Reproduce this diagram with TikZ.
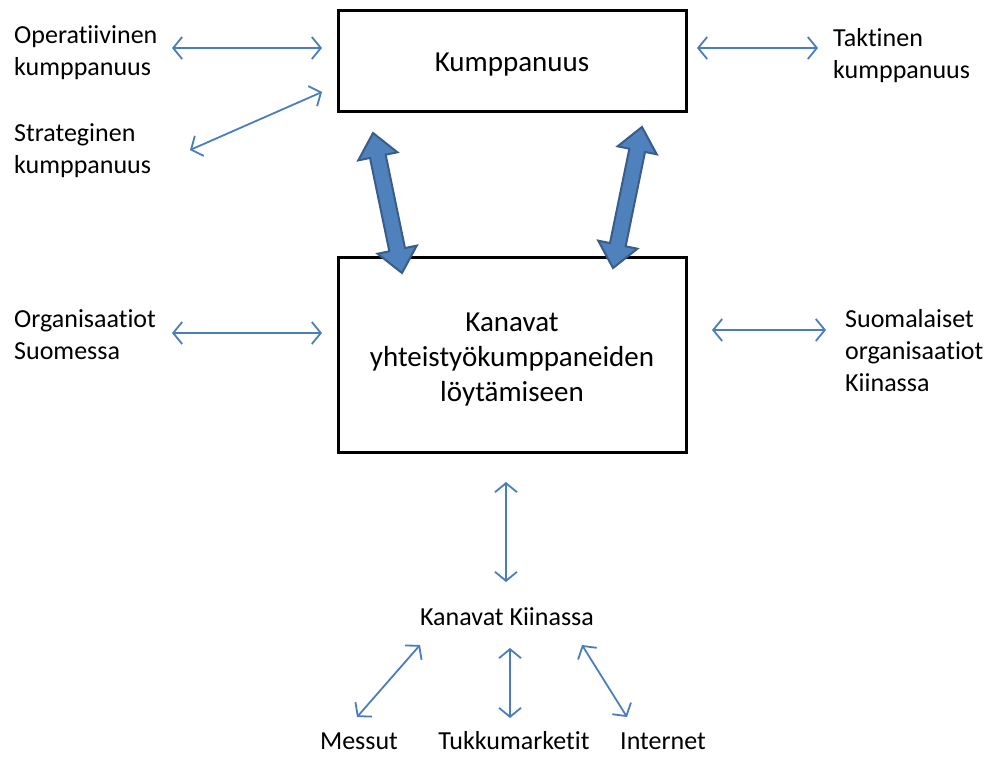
\documentclass[tikz,border=0pt]{standalone}
\usepackage{fontspec}
\setmainfont[Ligatures=NoCommon]{Carlito}
\usetikzlibrary{arrows.meta,shapes.arrows}
\definecolor{kmpBlue}{RGB}{74,126,187}
\definecolor{kmpFill}{RGB}{79,129,189}
\definecolor{kmpEdge}{RGB}{56,93,138}

\begin{document}
\begin{tikzpicture}[x=1pt, y=-1pt,
  box/.style={draw=black, line width=3pt, inner sep=0pt, minimum width=348pt},
  boxtext/.style={align=center, inner sep=0pt, font=\fontsize{29}{35}\selectfont},
  lbl/.style={align=left, inner sep=0pt, font=\fontsize{26}{32}\selectfont},
  link/.style={draw=kmpBlue, line width=1.8pt, {Straight Barb[length=9pt,width=22pt]}-{Straight Barb[length=9pt,width=22pt]}},
  bigarrow/.style={double arrow, fill=kmpFill, draw=kmpEdge, line width=2pt,
    inner xsep=0pt, inner ysep=7pt, double arrow head extend=12pt, double arrow tip angle=80}]
% Diagram of partnership channels
\useasboundingbox (0,0) rectangle (995,756);
% Boxes
\node[box, minimum height=101pt] (kump) at (512,60.5) {};
\node[box, minimum height=195pt] (kanavat) at (512,354.5) {};
\node[boxtext] (kumpText) at ([yshift=-4pt]kump.center) {Kumppanuus};
\node[boxtext] (kanavatText) at ([yshift=-5pt]kanavat.center) {Kanavat\\yhteistyökumppaneiden\\löytämiseen};
% Texts round the boxes
\node[lbl, anchor=west] (oper) at (14,53) {Operatiivinen\\kumppanuus};
\node[lbl, anchor=west] (strat) at (14,151) {Strateginen\\kumppanuus};
\node[lbl, anchor=west] (takt) at (833,56) {Taktinen\\kumppanuus};
\node[lbl, anchor=west] (orgfi) at (14,335) {Organisaatiot\\Suomessa};
\node[lbl, anchor=west] (orgcn) at (845,351) {Suomalaiset\\organisaatiot\\Kiinassa};
\node[lbl] (kiina) at (507,617) {Kanavat Kiinassa};
\node[lbl] (messut) at (359,741) {Messut};
\node[lbl] (tukku) at (514,741) {Tukkumarketit};
\node[lbl] (netti) at (663,741) {Internet};
% Ends of the thin arrows
\coordinate (operA) at (172,48);  \coordinate (operB) at (322,48);
\coordinate (stratA) at (190,150); \coordinate (stratB) at (322,92);
\coordinate (taktA) at (697,48);  \coordinate (taktB) at (818,48);
\coordinate (orgfiA) at (172,333); \coordinate (orgfiB) at (322,333);
\coordinate (orgcnA) at (712,330); \coordinate (orgcnB) at (826,330);
\coordinate (kiinaA) at (506,482); \coordinate (kiinaB) at (506,582);
\coordinate (messutA) at (357,717); \coordinate (messutB) at (420,645);
\coordinate (tukkuA) at (510,718); \coordinate (tukkuB) at (510,648);
\coordinate (nettiA) at (627,717); \coordinate (nettiB) at (582,645);
% Thin arrows
\begin{scope}[line cap=round]
  \draw[link] (operA) -- (operB);
  \draw[link] (stratA) -- (stratB);
  \draw[link] (taktA) -- (taktB);
  \draw[link] (orgfiA) -- (orgfiB);
  \draw[link] (orgcnA) -- (orgcnB);
  \draw[link] (kiinaA) -- (kiinaB);
  \draw[link] (messutA) -- (messutB);
  \draw[link] (tukkuA) -- (tukkuB);
  \draw[link] (nettiA) -- (nettiB);
\end{scope}
% Thick arrows between the boxes
\node[bigarrow, minimum height=143pt, rotate=101.7] (linkL) at (387.5,203) {};
\node[bigarrow, minimum height=144pt, rotate=78.4] (linkR) at (627.5,197.5) {};
\end{tikzpicture}
\end{document}
